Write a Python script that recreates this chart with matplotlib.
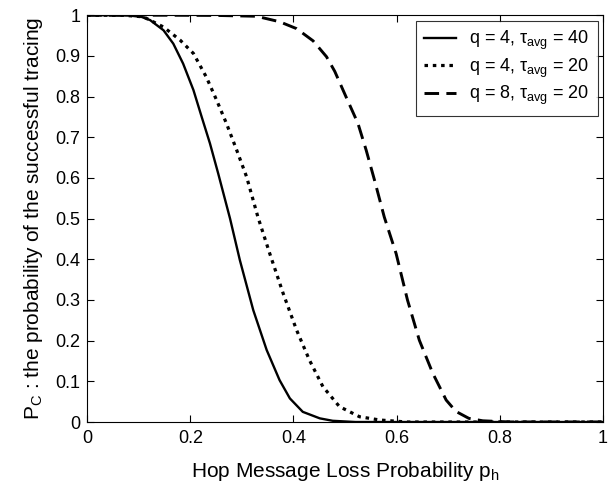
import matplotlib
matplotlib.use("Agg")
import matplotlib.pyplot as plt

plt.rcParams['font.family'] = ['Liberation Sans', 'DejaVu Sans']
plt.rcParams['mathtext.fontset'] = 'custom'
plt.rcParams['mathtext.rm'] = 'Liberation Sans'
plt.rcParams['mathtext.it'] = 'Liberation Sans'

# q = 4, tau_avg = 40 (solid)
x1 = [0.0, 0.05, 0.083, 0.105, 0.122, 0.148, 0.167, 0.186, 0.206, 0.222, 0.238, 0.254, 0.277,
      0.296, 0.322, 0.348, 0.373, 0.393, 0.418, 0.451, 0.476, 0.52, 1.0]
y1 = [1.0, 1.0, 0.999, 0.996, 0.988, 0.963, 0.930, 0.881, 0.816, 0.750, 0.685, 0.611, 0.500,
      0.398, 0.275, 0.177, 0.103, 0.058, 0.025, 0.009, 0.003, 0.0, 0.0]
# q = 4, tau_avg = 20 (dotted)
x2 = [0.0, 0.07, 0.109, 0.148, 0.180, 0.206, 0.231, 0.251, 0.270, 0.290, 0.309, 0.331,
      0.354, 0.380, 0.406, 0.431, 0.457, 0.489, 0.528, 0.567, 0.62, 1.0]
y2 = [1.0, 1.0, 0.996, 0.971, 0.939, 0.906, 0.848, 0.791, 0.734, 0.668, 0.603, 0.504,
      0.414, 0.316, 0.226, 0.152, 0.087, 0.038, 0.013, 0.005, 0.0, 0.0]
# q = 8, tau_avg = 20 (dashed)
x3 = [0.0, 0.15, 0.25, 0.328, 0.373, 0.406, 0.438, 0.464, 0.480, 0.502, 0.525, 0.541, 0.557,
      0.576, 0.599, 0.621, 0.644, 0.670, 0.696, 0.715, 0.740, 0.767, 0.82, 1.0]
y3 = [1.0, 1.0, 0.9995, 0.9975, 0.984, 0.967, 0.937, 0.898, 0.862, 0.799, 0.734, 0.668, 0.595,
      0.504, 0.414, 0.300, 0.201, 0.120, 0.054, 0.026, 0.009, 0.003, 0.0, 0.0]

labels = [r'q = 4, $\tau_{\mathrm{avg}}$ = 40',
          r'q = 4, $\tau_{\mathrm{avg}}$ = 20',
          r'q = 8, $\tau_{\mathrm{avg}}$ = 20']

xticks = [0, 0.2, 0.4, 0.6, 0.8, 1]
xticklabels = ['0', '0.2', '0.4', '0.6', '0.8', '1']
yticks = [0, 0.1, 0.2, 0.3, 0.4, 0.5, 0.6, 0.7, 0.8, 0.9, 1]
yticklabels = ['0', '0.1', '0.2', '0.3', '0.4', '0.5', '0.6', '0.7', '0.8', '0.9', '1']

fig = plt.figure(figsize=(6.14, 4.91), dpi=100)
ax = fig.add_axes([0.142, 0.1405, 0.84, 0.8285])

ax.plot(x1, y1, color='black', lw=1.7, linestyle='-', label=labels[0])
ax.plot(x2, y2, color='black', lw=2.3, linestyle=(0, (1.1, 1.5)), label=labels[1])
ax.plot(x3, y3, color='black', lw=2.1, linestyle=(0, (5, 2.5)), label=labels[2])

ax.set_xlim(0, 1)
ax.set_ylim(0, 1)
ax.set_xticks(xticks)
ax.set_xticklabels(xticklabels)
ax.set_yticks(yticks)
ax.set_yticklabels(yticklabels)
ax.tick_params(direction='in', top=True, right=True, labelsize=13, length=5, width=0.8)
ax.tick_params(axis='x', pad=6)
ax.tick_params(axis='y', pad=5)
for s in ax.spines.values():
    s.set_linewidth(0.8)

ax.set_xlabel(r'Hop Message Loss Probability p$_{\mathrm{h}}$', fontsize=15, labelpad=9)
ax.set_ylabel(r'P$_{\mathrm{C}}$ : the probability of the successful tracing', fontsize=15, labelpad=7)

leg = ax.legend(loc='upper right', fontsize=13, frameon=True, fancybox=False,
                edgecolor='black', handlelength=1.8, handletextpad=0.7, borderpad=0.45,
                labelspacing=0.25, borderaxespad=0.3)
leg.get_frame().set_linewidth(0.8)

fig.savefig('out.png', dpi=100)
